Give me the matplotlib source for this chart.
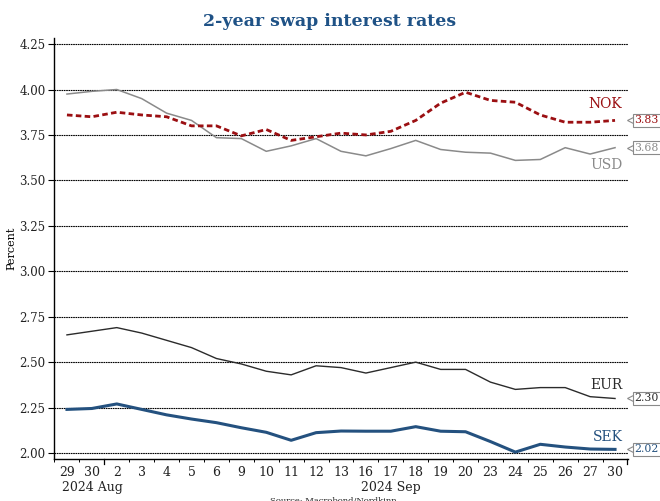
import matplotlib.pyplot as plt
import numpy as np

dayLabels = ["29", "30", "2", "3", "4", "5", "6", "9", "10", "11", "12",
             "13", "16", "17", "18", "19", "20", "23", "24", "25", "26", "27", "30"]

nok = [3.86, 3.85, 3.875, 3.86, 3.85, 3.80, 3.80, 3.745, 3.78, 3.72, 3.74,
       3.76, 3.75, 3.77, 3.83, 3.925, 3.985, 3.94, 3.93, 3.86, 3.82, 3.82, 3.83]
usd = [3.975, 3.99, 4.00, 3.95, 3.87, 3.83, 3.735, 3.73, 3.66, 3.69, 3.73,
       3.66, 3.635, 3.675, 3.72, 3.67, 3.655, 3.65, 3.61, 3.615, 3.68, 3.645, 3.68]
eur = [2.65, 2.67, 2.69, 2.66, 2.62, 2.58, 2.52, 2.49, 2.45, 2.43, 2.48,
       2.47, 2.44, 2.47, 2.50, 2.46, 2.46, 2.39, 2.35, 2.36, 2.36, 2.31, 2.30]
sek = [2.24, 2.245, 2.27, 2.24, 2.21, 2.187, 2.167, 2.139, 2.114, 2.07, 2.112,
       2.121, 2.12, 2.12, 2.145, 2.12, 2.117, 2.063, 2.005, 2.048, 2.033, 2.022, 2.02]

yTicks = [2.00, 2.25, 2.50, 2.75, 3.00, 3.25, 3.50, 3.75, 4.00, 4.25]

cNok = "#9b0f12"
cUsd = "#8a8a8a"
cEur = "#2b2b2b"
cSek = "#24517f"
cTitle = "#1f5286"

plt.rcParams["font.family"] = ["DejaVu Serif"]

x = np.arange(len(dayLabels))

fig = plt.figure(figsize=(6.6, 5.01), dpi=100)
ax = fig.add_axes([0.0818, 0.0838, 0.8697, 0.8402])

for yv in yTicks:
    ax.axhline(yv, color="black", linewidth=0.8, linestyle=(0, (1.5, 0.6)), zorder=1)

ax.plot(x, usd, color=cUsd, linewidth=1.1, zorder=3)
ax.plot(x, eur, color=cEur, linewidth=1.0, zorder=3)
ax.plot(x, sek, color=cSek, linewidth=2.2, zorder=3)
ax.plot(x, nok, color=cNok, linewidth=2.0, linestyle=(0, (2, 1.2)), zorder=4)

ax.set_xlim(-0.52, 22.52)
ax.set_ylim(1.967, 4.283)

ax.spines["top"].set_visible(False)
ax.spines["right"].set_visible(False)
ax.spines["left"].set_linewidth(1.0)
ax.spines["bottom"].set_linewidth(1.0)

ax.set_yticks(yTicks)
ax.set_yticklabels([f"{v:.2f}" for v in yTicks], fontsize=8.5, color="#222222")
ax.tick_params(axis="y", length=4, width=0.8, pad=2)

# day labels sit between the boundary ticks
ax.set_xticks(x)
ax.set_xticklabels(dayLabels, fontsize=9, color="#222222")
ax.tick_params(axis="x", which="major", length=0, pad=5)
ax.set_xticks(np.arange(-0.5, len(dayLabels), 1.0), minor=True)
ax.tick_params(axis="x", which="minor", length=2.5, width=0.7)
for xb in [1.5, 22.5]:
    ax.plot([xb, xb], [0, -0.012], transform=ax.get_xaxis_transform(),
            color="black", linewidth=0.9, clip_on=False)

ax.text(-0.2, -0.053, "2024 Aug", transform=ax.get_xaxis_transform(), fontsize=9,
        ha="left", va="top", color="#222222")
ax.text(11.8, -0.053, "2024 Sep", transform=ax.get_xaxis_transform(), fontsize=9,
        ha="left", va="top", color="#222222")

ax.set_ylabel("Percent", fontsize=8)
ax.yaxis.set_label_coords(-0.066, 0.5)

# series names near the right end
ax.text(22.3, 3.88, "NOK", color=cNok, fontsize=10, ha="right", va="bottom")
ax.text(22.3, 3.625, "USD", color=cUsd, fontsize=10, ha="right", va="top")
ax.text(22.3, 2.335, "EUR", color=cEur, fontsize=10, ha="right", va="bottom")
ax.text(22.3, 2.05, "SEK", color=cSek, fontsize=10, ha="right", va="bottom")

# value tags to the right of the plot
ytr = ax.get_yaxis_transform()
for val, col in [(nok[-1], cNok), (usd[-1], cUsd), (eur[-1], cEur), (sek[-1], cSek)]:
    ax.text(1.0115, val, f"{val:.2f}", transform=ytr,
            fontsize=7.8, color=col, ha="left", va="center", clip_on=False, zorder=7,
            bbox=dict(boxstyle="square,pad=0.15", facecolor="white",
                      edgecolor="#8a8a8a", linewidth=0.8))
    ax.plot([1.0075], [val], transform=ytr, marker="<", markersize=7,
            markerfacecolor="white", markeredgecolor="#8a8a8a",
            markeredgewidth=0.8, clip_on=False, zorder=6)

fig.text(0.5, 0.957, "2-year swap interest rates", fontsize=12.5, fontweight="bold",
         color=cTitle, ha="center", va="center")
fig.text(0.505, 0.0, "Source: Macrobond/Nordkinn", fontsize=6, ha="center",
         va="center", color="#222222")

fig.savefig("out.png", dpi=100)
